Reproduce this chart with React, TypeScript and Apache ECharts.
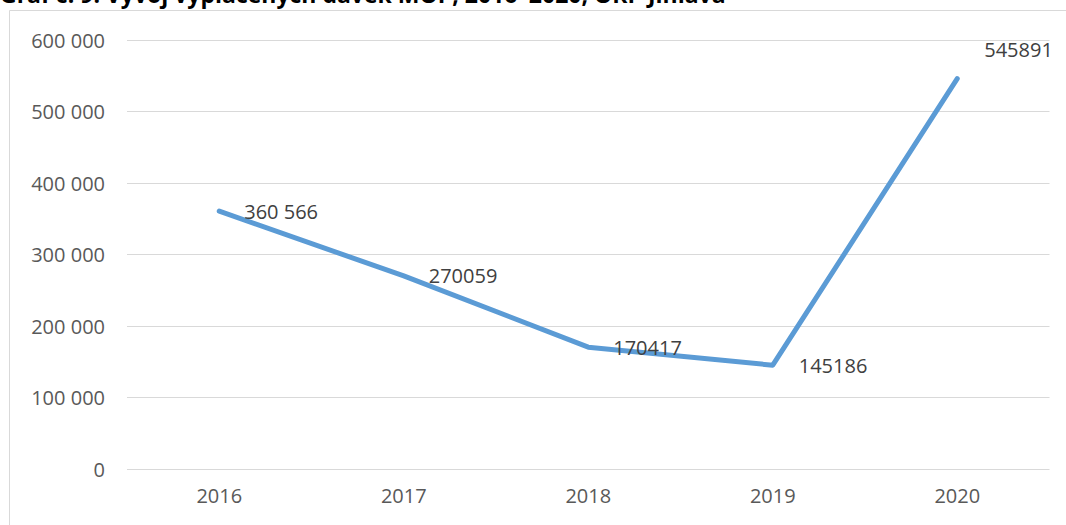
import React, { useEffect, useRef } from "react";
import * as echarts from "echarts";

const title = "Graf č. 9: Vývoj vyplacených dávek MOP, 2016–2020, ORP Jihlava";
const years = ["2016", "2017", "2018", "2019", "2020"];
const values = [360566, 270059, 170417, 145186, 545891];
const valueLabels = ["360 566", "270059", "170417", "145186", "545891"];
const yTicks = [0, 100000, 200000, 300000, 400000, 500000, 600000];

const labelOffsets: [number, number][] = [
  [19, 0],
  [19, 0],
  [19, 0],
  [20, 0],
  [21, -29],
];

export default function App() {
  const ref = useRef<HTMLDivElement>(null);
  useEffect(() => {
    if (!ref.current) return;
    const chart = echarts.init(ref.current, null, { renderer: "svg" });
    const font = "'Open Sans', 'Liberation Sans', sans-serif";
    chart.setOption({
      animation: false,
      backgroundColor: "#ffffff",
      graphic: [
        {
          type: "rect",
          shape: { x: 9.5, y: 10.5, width: 1100, height: 600 },
          style: { fill: "none", stroke: "#d9d9d9", lineWidth: 1 },
          silent: true,
        },
        {
          type: "text",
          x: 0,
          y: 5,
          style: {
            text: title,
            font: `bold 23px ${font}`,
            fill: "#000000",
            textVerticalAlign: "bottom",
          },
          silent: true,
        },
      ],
      grid: { left: 127, right: 16.5, top: 40, bottom: 56, containLabel: false },
      xAxis: {
        type: "category",
        data: years,
        boundaryGap: true,
        axisLine: { show: false },
        axisTick: { show: false },
        axisLabel: { color: "#595959", fontSize: 20, fontFamily: font, margin: 16 },
      },
      yAxis: {
        type: "value",
        min: yTicks[0],
        max: yTicks[yTicks.length - 1],
        interval: 100000,
        axisLine: { show: false },
        axisTick: { show: false },
        splitLine: { lineStyle: { color: "#d9d9d9", width: 1 } },
        axisLabel: {
          color: "#595959",
          fontSize: 20,
          fontFamily: font,
          margin: 22,
          formatter: (v: number) =>
            v === 0 ? "0" : String(v).replace(/\B(?=(\d{3})+(?!\d))/g, " "),
        },
      },
      series: [
        {
          type: "line",
          data: values.map((v, i) => ({
            value: v,
            label: {
              show: true,
              position: "right",
              distance: 5,
              offset: labelOffsets[i],
              formatter: valueLabels[i],
              color: "#404040",
              fontSize: 20,
              fontFamily: font,
            },
          })),
          showSymbol: true,
          symbol: "circle",
          symbolSize: 2,
          lineStyle: { color: "#5b9bd5", width: 5, cap: "round", join: "round" },
          itemStyle: { color: "rgba(91,155,213,0)", borderWidth: 0 },
          label: { show: true, color: "#404040", fontSize: 20, fontFamily: font },
        },
      ],
    });
    return () => chart.dispose();
  }, []);
  return (
    <div
      ref={ref}
      style={{ position: "absolute", left: 0, top: 0, width: 1066, height: 525 }}
    />
  );
}
